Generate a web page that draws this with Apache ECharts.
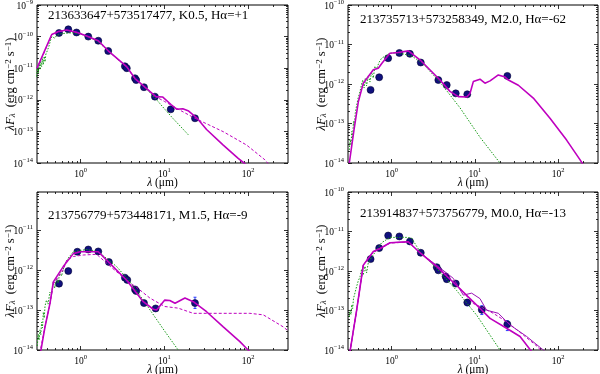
<!DOCTYPE html>
<html>
<head>
<meta charset="utf-8">
<script src="https://cdn.jsdelivr.net/npm/echarts@6.0.0/dist/echarts.min.js"></script>
<style>
  html, body { margin: 0; padding: 0; background: #fff; }
  #chart { width: 600px; height: 374px; }
</style>
</head>
<body>
<div id="chart"></div>
<script>
// titles of the four panels
const titles = [
  '213633647+573517477, K0.5, H\u03b1=+1',
  '213735713+573258349, M2.0, H\u03b1=-62',
  '213756779+573448171, M1.5, H\u03b1=-9',
  '213914837+573756779, M0.0, H\u03b1=-13'
]

// axis ranges (micron, erg cm-2 s-1)
const xRange = [0.3, 300]
const yMin = 1e-14
const yMax = [1e-9, 1e-10, 9.1e-11, 1e-10]

// photometry [lambda, lambda F_lambda]
const p1Phot = [[0.55,1.3e-10],[0.71,1.7e-10],[0.89,1.35e-10],[1.23,1.0e-10],[1.62,7.4e-11],[2.13,3.5e-11],[3.37,1.15e-11],[3.55,1.0e-11],[4.45,4.8e-12],[4.6,4.2e-12],[5.7,2.5e-12],[7.7,1.26e-12],[11.9,5.0e-13],[23.2,2.6e-13]]
const p2Phot = [[0.56,7.1e-13],[0.71,1.48e-12],[0.91,4.5e-12],[1.24,6.1e-12],[1.66,5.8e-12],[2.24,3.5e-12],[3.64,1.26e-12],[4.59,9.4e-13],[5.89,5.8e-13],[8.1,5.5e-13],[24.5,1.6e-12]]
const p3Phot = [[0.55,4.6e-13],[0.71,9.5e-13],[0.91,2.9e-12],[1.23,3.3e-12],[1.62,2.95e-12],[2.17,1.6e-12],[3.37,6.5e-13],[3.6,5.7e-13],[4.45,3.3e-13],[4.6,3.0e-13],[5.7,1.5e-13],[7.85,1.1e-13],[23.2,1.5e-13]]
const p4Phot = [[0.56,2.0e-12],[0.71,3.8e-12],[0.91,7.9e-12],[1.24,7.5e-12],[1.66,5.6e-12],[2.24,2.9e-12],[3.48,1.25e-12],[3.64,1.04e-12],[4.45,7.3e-13],[4.6,6.2e-13],[5.9,4.8e-13],[8.1,1.6e-13],[12.1,1.04e-13],[24.5,4.5e-14]]

// error bars [lambda, low, high]
const p3Err = [[23.2,1.1e-13,2.1e-13]]
const p4Err = [[8.1,1.32e-13,1.9e-13],[12.1,7.9e-14,1.32e-13],[24.5,3.1e-14,5.5e-14]]

// stellar photosphere (green dotted)
const p1Star = [[0.297,5.4e-12],[0.302,1.0e-11],[0.311,7.1e-12],[0.318,1.41e-11],[0.326,8.9e-12],[0.333,1.66e-11],[0.341,1.12e-11],[0.349,2.0e-11],[0.357,1.32e-11],[0.366,2.4e-11],[0.374,1.58e-11],[0.383,2.8e-11],[0.398,3.55e-11],[0.417,5.0e-11],[0.437,7.9e-11],[0.452,1.0e-10],[0.468,1.12e-10],[0.49,8.9e-11],[0.513,1.07e-10],[0.562,1.2e-10],[0.631,1.26e-10],[0.794,1.32e-10],[1.0,1.2e-10],[1.26,9.5e-11],[1.58,7.2e-11],[2.14,3.5e-11],[3.55,1.07e-11],[4.47,4.5e-12],[5.89,2.4e-12],[8.07,1.0e-12],[10,5.2e-13],[12.6,2.6e-13],[15.8,1.38e-13],[19.3,7.8e-14]]
const p2Star = [[0.311,2.14e-14],[0.318,3.98e-14],[0.326,2.8e-14],[0.333,6.3e-14],[0.341,4.5e-14],[0.349,1.12e-13],[0.357,7.9e-14],[0.366,1.78e-13],[0.38,2.8e-13],[0.398,4.5e-13],[0.417,6.3e-13],[0.437,1.0e-12],[0.452,1.26e-12],[0.468,7.9e-13],[0.484,1.41e-12],[0.501,8.9e-13],[0.525,1.66e-12],[0.55,1.12e-12],[0.575,2.0e-12],[0.603,1.41e-12],[0.631,2.8e-12],[0.661,2.4e-12],[0.708,3.55e-12],[0.759,4.5e-12],[0.796,4.9e-12],[0.957,6.0e-12],[1.205,6.2e-12],[1.74,5.1e-12],[2.3,3.5e-12],[3.81,1.12e-12],[6.62,2.5e-13],[11.5,4.5e-14],[20.0,1.0e-14]]
const p3Star = [[0.302,1.26e-14],[0.311,2.5e-14],[0.318,1.78e-14],[0.326,3.2e-14],[0.333,2.4e-14],[0.341,5.0e-14],[0.349,3.55e-14],[0.357,8.9e-14],[0.366,6.3e-14],[0.374,1.26e-13],[0.389,1.78e-13],[0.407,1.41e-13],[0.427,2.8e-13],[0.447,2.4e-13],[0.468,5.0e-13],[0.49,3.55e-13],[0.513,6.3e-13],[0.537,4.8e-13],[0.562,8.9e-13],[0.589,7.1e-13],[0.631,1.26e-12],[0.708,2.0e-12],[0.815,2.9e-12],[1.17,3.3e-12],[1.62,2.9e-12],[2.69,1.23e-12],[3.87,5.1e-13],[5.58,1.78e-13],[8.43,5.1e-14],[10.1,2.95e-14],[14.6,1.0e-14]]
const p4Star = [[0.311,6.9e-14],[0.318,1.0e-13],[0.326,7.9e-14],[0.333,1.41e-13],[0.341,1.12e-13],[0.349,2.0e-13],[0.364,2.8e-13],[0.38,4.0e-13],[0.398,5.6e-13],[0.418,7.1e-13],[0.437,1.12e-12],[0.457,7.9e-13],[0.479,1.32e-12],[0.501,8.9e-13],[0.525,1.58e-12],[0.551,1.9e-12],[0.577,2.24e-12],[0.662,3.4e-12],[0.76,5.2e-12],[0.957,7.1e-12],[1.52,7.1e-12],[1.74,6.8e-12],[2.19,3.1e-12],[3.48,1.15e-12],[6.04,3.2e-13],[10.5,7.6e-14],[20.0,1.0e-14]]

// best disk model (magenta solid)
const p1Disk = [[0.30,1.0e-11],[0.374,3.8e-11],[0.45,1.17e-10],[0.54,1.45e-10],[0.68,1.62e-10],[0.89,1.38e-10],[1.18,1.05e-10],[1.62,7.4e-11],[2.13,3.55e-11],[3.54,1.12e-11],[4.45,4.7e-12],[5.85,2.5e-12],[7.9,1.26e-12],[9.5,1.23e-12],[12.0,7.1e-13],[14.1,5.0e-13],[16.6,5.2e-13],[19.5,4.4e-13],[24.3,2.7e-13],[31.9,1.15e-13],[50.5,3.7e-14],[76.2,1.4e-14],[91.6,9.5e-15],[112,5.6e-15]]
const p2Disk = [[0.311,1.0e-14],[0.354,6.9e-14],[0.399,3.55e-13],[0.458,1.05e-12],[0.604,2.3e-12],[0.693,2.5e-12],[0.762,3.3e-12],[0.957,6.0e-12],[1.205,6.3e-12],[1.59,6.9e-12],[2.19,4.1e-12],[3.81,1.26e-12],[5.02,6.5e-13],[6.32,4.8e-13],[7.98,4.7e-13],[8.73,5.75e-13],[9.57,1.15e-12],[11.5,1.32e-12],[13.2,1.05e-12],[15.2,1.2e-12],[19.1,1.7e-12],[23.0,1.5e-12],[25.2,1.26e-12],[33.2,9.3e-13],[50.2,4.4e-13],[79.6,1.35e-13],[126,3.8e-14],[183,1.2e-14],[200,8.9e-15]]
const p3Disk = [[0.316,5.0e-15],[0.374,3.8e-14],[0.429,1.48e-13],[0.47,5.1e-13],[0.618,1.23e-12],[0.815,2.6e-12],[0.979,2.9e-12],[1.62,2.9e-12],[2.23,1.48e-12],[3.54,5.6e-13],[5.58,1.62e-13],[7.36,1.05e-13],[8.07,1.0e-13],[10.1,1.78e-13],[11.6,1.74e-13],[13.4,1.48e-13],[17.6,2.0e-13],[22.1,1.62e-13],[31.9,9.1e-14],[50.5,3.8e-14],[79.8,1.62e-14],[100,1.0e-14],[112,7.9e-15]]
const p4Disk = [[0.317,9.1e-15],[0.381,1.02e-13],[0.458,1.41e-12],[0.604,3.1e-12],[0.726,3.7e-12],[0.957,5.2e-12],[1.59,5.5e-12],[2.19,2.9e-12],[3.48,1.29e-12],[6.04,4.3e-13],[9.57,1.66e-13],[15.2,6.3e-14],[24.0,3.55e-14],[34.8,2.2e-14],[48.0,9.1e-15]]

// second model (magenta dashed) and third model (thin)
const p1Alt = [[0.30,1.0e-11],[0.374,3.6e-11],[0.45,1.15e-10],[0.54,1.4e-10],[0.68,1.6e-10],[0.89,1.36e-10],[1.18,1.04e-10],[1.62,7.3e-11],[2.13,3.5e-11],[3.54,1.1e-11],[4.45,4.7e-12],[5.85,2.5e-12],[7.9,1.25e-12],[10,8.9e-13],[15.8,4.5e-13],[23.2,2.6e-13],[50.5,9.8e-14],[96,3.7e-14],[159,1.26e-14],[178,8.9e-15]]
const p3Alt = [[0.316,6.3e-15],[0.374,4.0e-14],[0.429,1.41e-13],[0.47,4.5e-13],[0.618,1.02e-12],[0.679,1.78e-12],[0.815,2.2e-12],[1.07,2.4e-12],[1.55,2.5e-12],[2.24,1.26e-12],[3.87,4.8e-13],[4.66,3.7e-13],[6.71,2.0e-13],[10.1,1.23e-13],[14.6,1.12e-13],[22.1,8.3e-14],[42.1,8.3e-14],[105,8.3e-14],[152,7.6e-14],[263,3.8e-14],[302,3.0e-14]]
const p4Alt = [[0.317,9.1e-15],[0.381,1.0e-13],[0.458,1.38e-12],[0.604,3.0e-12],[0.726,3.6e-12],[0.957,5.1e-12],[1.59,5.4e-12],[2.19,2.9e-12],[3.81,1.15e-12],[6.62,3.6e-13],[9.57,1.5e-13],[11.5,1.26e-13],[16.6,8.5e-14],[24.0,5.2e-14],[38.1,2.4e-14],[57.7,1.17e-14],[63,9e-15]]
const p4Thin = [[0.317,9.1e-15],[0.381,1.02e-13],[0.458,1.41e-12],[0.604,3.1e-12],[0.726,3.7e-12],[0.957,5.2e-12],[1.59,5.5e-12],[2.19,2.9e-12],[3.81,1.2e-12],[5.51,6.5e-13],[7.26,2.45e-13],[9.14,2.75e-13],[11.5,2.0e-13],[13.8,1.02e-13],[19.1,8.5e-14],[26.4,4.3e-14],[41.8,2.2e-14],[66.2,1.0e-14],[75,8e-15]]

const FONT = '"Liberation Serif", "DejaVu Serif", serif'
const MAG = '#bf00bf'
const L = Math.log10

const grids = [
  {left: 37, top: 5, width: 251, height: 158},
  {left: 348, top: 5, width: 250, height: 158},
  {left: 37, top: 192, width: 251, height: 158},
  {left: 348, top: 192, width: 250, height: 158}
]
const titlePos = [[48, 16], [360, 20], [48, 215.5], [360, 214]]

const panelData = [
  {phot: p1Phot, star: p1Star, disk: p1Disk, alt: p1Alt},
  {phot: p2Phot, star: p2Star, disk: p2Disk},
  {phot: p3Phot, star: p3Star, disk: p3Disk, alt: p3Alt, err: p3Err},
  {phot: p4Phot, star: p4Star, disk: p4Disk, alt: p4Alt, thin: p4Thin, err: p4Err}
]

const majorVals = (lo, hi) => {
  const out = []
  for (let d = Math.ceil(L(lo) - 1e-9); d <= Math.floor(L(hi) + 1e-9); d++) out.push(d)
  return out
}
const minorVals = (lo, hi) => {
  const out = []
  for (let d = Math.floor(L(lo)) - 1; d <= Math.ceil(L(hi)); d++) {
    for (let k = 2; k <= 9; k++) {
      const v = d + L(k)
      if (v > L(lo) && v < L(hi)) out.push(v)
    }
  }
  return out
}

const richTick = {
  b: {fontFamily: FONT, fontSize: 9.5, lineHeight: 12, verticalAlign: 'bottom', color: '#000'},
  s: {fontFamily: FONT, fontSize: 6.5, lineHeight: 7, verticalAlign: 'top', color: '#000'}
}
const tickFmt = (v) => '{b|10}{s|' + String(Math.round(v)).replace('-', '\u2212') + '}'

const nameRich = {
  i: {fontFamily: FONT, fontSize: 12.5, fontStyle: 'italic', color: '#000'},
  sub: {fontFamily: FONT, fontSize: 9, fontStyle: 'italic', verticalAlign: 'bottom', lineHeight: 9, color: '#000'},
  sup: {fontFamily: FONT, fontSize: 9, verticalAlign: 'top', lineHeight: 9, color: '#000'}
}

const makeAxis = (gi, lo, hi, pos, major, labelled) => {
  const vals = major ? majorVals(lo, hi) : minorVals(lo, hi)
  return {
    type: 'value', gridIndex: gi, min: L(lo), max: L(hi), position: pos,
    axisLine: {show: false, onZero: false},
    splitLine: {show: false},
    axisTick: {show: true, inside: true, length: major ? 4 : 2, customValues: vals,
      lineStyle: {color: '#000', width: 0.8}},
    axisLabel: {show: labelled, customValues: vals, margin: 4, formatter: tickFmt, rich: richTick}
  }
}

const xAxes = [], yAxes = [], series = [], graphics = []
grids.forEach((g, gi) => {
  const xb = makeAxis(gi, xRange[0], xRange[1], 'bottom', true, true)
  xb.name = '{i|\u03bb} (\u03bcm)'
  xb.nameLocation = 'middle'
  xb.nameGap = 14
  xb.nameMoveOverlap = false
  xb.nameTextStyle = {fontFamily: FONT, fontSize: 11.5, color: '#000',
    rich: Object.assign({}, nameRich, {i: {fontFamily: FONT, fontSize: 11.5, fontStyle: 'italic', color: '#000'}})}
  xAxes.push(xb,
    makeAxis(gi, xRange[0], xRange[1], 'bottom', false, false),
    makeAxis(gi, xRange[0], xRange[1], 'top', true, false),
    makeAxis(gi, xRange[0], xRange[1], 'top', false, false))

  const yl = makeAxis(gi, yMin, yMax[gi], 'left', true, true)
  yl.name = '{i|\u03bbF}{sub|\u03bb}  (erg cm{sup|\u22122} s{sup|\u22121})'
  yl.nameLocation = 'middle'
  yl.nameGap = 20
  yl.nameRotate = 90
  yl.nameMoveOverlap = false
  yl.nameTextStyle = {fontFamily: FONT, fontSize: 12.5, color: '#000', rich: nameRich}
  yAxes.push(yl,
    makeAxis(gi, yMin, yMax[gi], 'left', false, false),
    makeAxis(gi, yMin, yMax[gi], 'right', true, false),
    makeAxis(gi, yMin, yMax[gi], 'right', false, false))

  const ax = {xAxisIndex: gi * 4, yAxisIndex: gi * 4}
  const toLog = (arr) => arr.map(p => [L(p[0]), L(p[1])])
  const d = panelData[gi]

  series.push(Object.assign({
    type: 'scatter', data: toLog(d.phot), symbolSize: 7, z: 2,
    itemStyle: {color: '#10107e', opacity: 1, borderColor: '#000033', borderWidth: 0.6}
  }, ax))

  if (d.err) {
    series.push(Object.assign({
      type: 'custom', z: 1,
      data: d.err.map(e => [L(e[0]), L(e[1]), L(e[2])]),
      renderItem: (params, api) => {
        const lo = api.coord([api.value(0), api.value(1)])
        const hi = api.coord([api.value(0), api.value(2)])
        const st = {stroke: '#2a3cff', lineWidth: 1}
        return {type: 'group', children: [
          {type: 'line', shape: {x1: lo[0], y1: lo[1], x2: hi[0], y2: hi[1]}, style: st},
          {type: 'line', shape: {x1: lo[0] - 1.5, y1: lo[1], x2: lo[0] + 1.5, y2: lo[1]}, style: st},
          {type: 'line', shape: {x1: hi[0] - 1.5, y1: hi[1], x2: hi[0] + 1.5, y2: hi[1]}, style: st}
        ]}
      }
    }, ax))
  }

  const line = (arr, style) => Object.assign({
    type: 'line', data: toLog(arr), showSymbol: false, symbol: 'none', z: 3,
    silent: true, animation: false, lineStyle: style
  }, ax)

  series.push(line(d.star, {color: '#169a16', width: 1, type: [1.5, 1.5]}))
  if (d.alt) series.push(line(d.alt, {color: MAG, width: 1, type: [3, 2]}))
  if (d.thin) series.push(line(d.thin, {color: '#9a12b5', width: 1}))
  series.push(line(d.disk, {color: MAG, width: 1.6}))

  graphics.push({
    type: 'text', x: titlePos[gi][0], y: titlePos[gi][1], z: 10,
    style: {text: titles[gi], font: '13px ' + FONT, fill: '#000', verticalAlign: 'middle'}
  })
})

const chart = echarts.init(document.getElementById('chart'))
chart.setOption({
  animation: false,
  backgroundColor: '#fff',
  grid: grids.map(g => Object.assign({show: true, borderColor: '#000', borderWidth: 1,
    backgroundColor: 'transparent', outerBoundsMode: 'none', containLabel: false}, g)),
  xAxis: xAxes,
  yAxis: yAxes,
  series: series,
  graphic: graphics
})
</script>
</body>
</html>
